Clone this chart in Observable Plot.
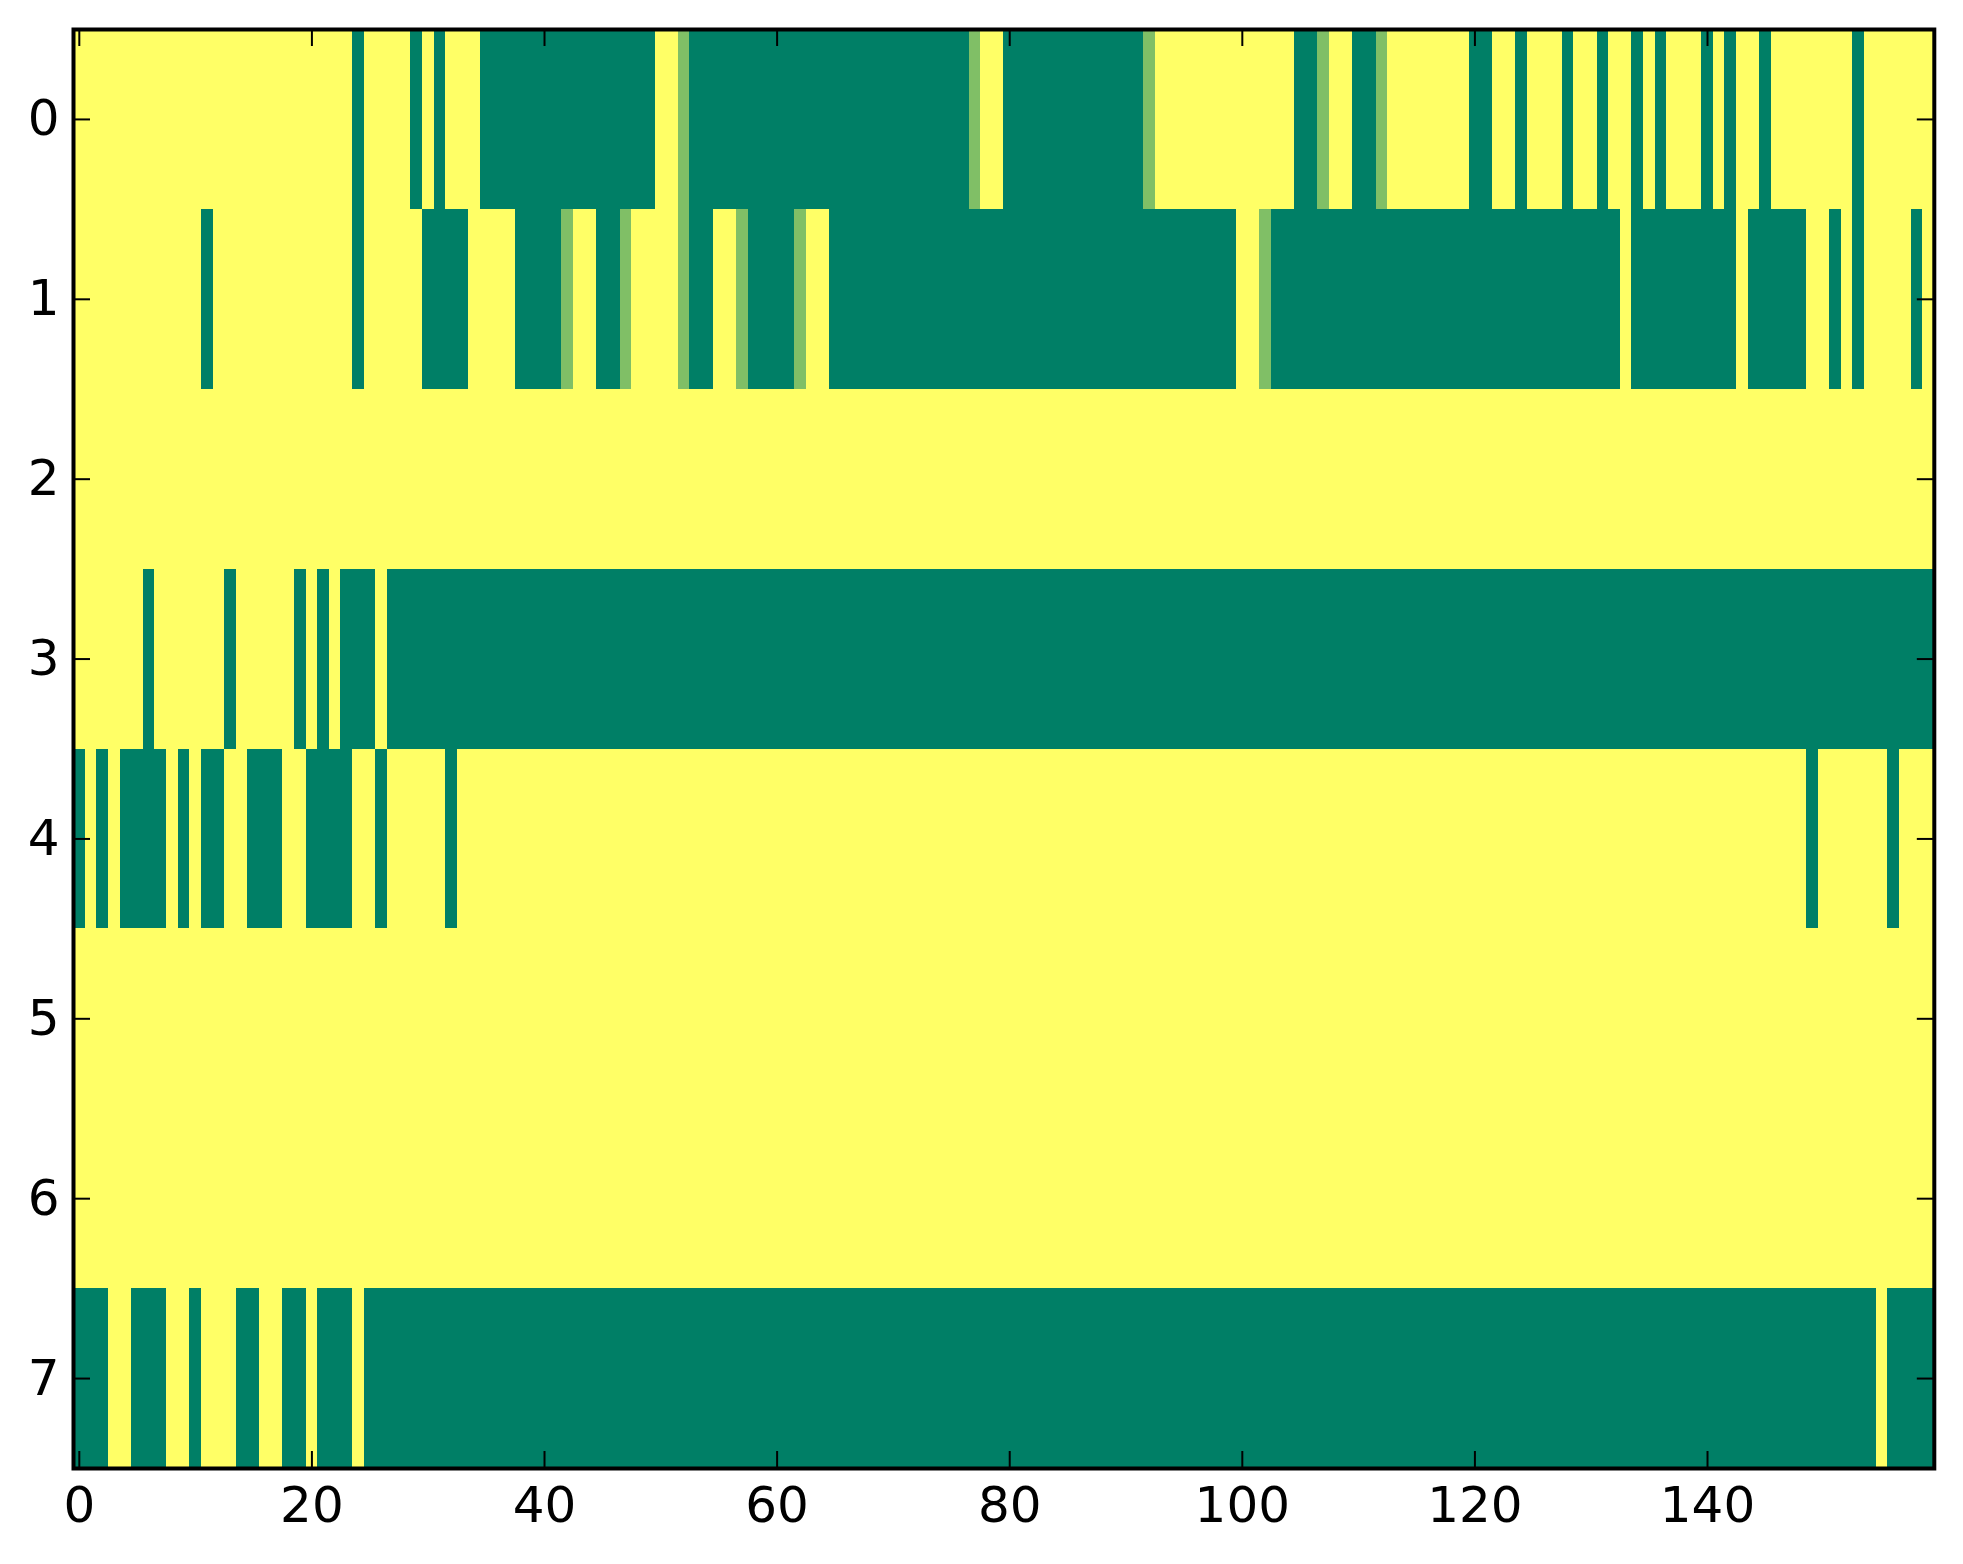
<!DOCTYPE html>
<html>
<head>
<meta charset="utf-8">
<style>html,body{margin:0;padding:0;background:#fff}svg{display:block}</style>
<script src="https://cdn.jsdelivr.net/npm/d3@7"></script>
<script src="https://cdn.jsdelivr.net/npm/@observablehq/plot@0.6"></script>
</head>
<body>
<div id="chart"></div>
<script>
const columns = 160;
const rowIndex = [0,1,2,3,4,5,6,7];
const xTicks = [0,20,40,60,80,100,120,140];
// Inclusive [first,last] column runs at value 0 (dark) for each row; everything else is 1 (yellow).
const row0Dark = [[24,24],[29,29],[31,31],[35,49],[53,76],[80,91],[105,106],[110,111],[120,121],[124,124],[128,128],[131,131],[134,134],[136,136],[140,140],[142,142],[145,145],[153,153]];
const row1Dark = [[11,11],[24,24],[30,33],[38,41],[45,46],[53,54],[58,61],[65,99],[103,132],[134,142],[144,148],[151,151],[153,153],[158,158]];
const row2Dark = [];
const row3Dark = [[6,6],[13,13],[19,19],[21,21],[23,25],[27,159]];
const row4Dark = [[0,0],[2,2],[4,7],[9,9],[11,12],[15,17],[20,23],[26,26],[32,32],[149,149],[156,156]];
const row5Dark = [];
const row6Dark = [];
const row7Dark = [[0,2],[5,7],[10,10],[14,15],[18,19],[21,23],[25,154],[156,159]];
// Columns at the middle value 0.5 (light green).
const row0Mid = [52,77,92,107,112];
const row1Mid = [42,47,52,57,62,102];

const darkRuns = [row0Dark,row1Dark,row2Dark,row3Dark,row4Dark,row5Dark,row6Dark,row7Dark];
const midCols = [row0Mid,row1Mid,[],[],[],[],[],[]];

const cells = [];
for (const row of rowIndex) {
  for (let col = 0; col < columns; col++) {
    let value = 1;
    if (darkRuns[row].some(([a,b]) => col >= a && col <= b)) value = 0;
    if (midCols[row].includes(col)) value = 0.5;
    cells.push({row, col, value});
  }
}

const font = "'DejaVu Sans'";
const plot = Plot.plot({
  width: 1963,
  height: 1564,
  marginLeft: 73,
  marginRight: 29.2,
  marginTop: 29,
  marginBottom: 96,
  x: {domain: [-0.5, 159.5], label: null},
  y: {domain: [7.5, -0.5], label: null},
  color: {type: "linear", domain: [0, 1], range: ["#007f66", "#ffff66"], interpolate: "rgb"},
  style: {background: "#fff", fontFamily: font},
  marks: [
    Plot.rect(cells, {
      x1: d => d.col - 0.5,
      x2: d => d.col + 0.5,
      y1: d => d.row - 0.5,
      y2: d => d.row + 0.5,
      fill: "value",
      shapeRendering: "crispEdges"
    }),
    Plot.tickX(xTicks, {x: d => d, stroke: "#000", strokeWidth: 2, insetBottom: 1422}),
    Plot.tickX(xTicks, {x: d => d, stroke: "#000", strokeWidth: 2, insetTop: 1422}),
    Plot.tickY(rowIndex, {y: d => d, stroke: "#000", strokeWidth: 2, insetRight: 1843.8}),
    Plot.tickY(rowIndex, {y: d => d, stroke: "#000", strokeWidth: 2, insetLeft: 1843.8}),
    Plot.frame({stroke: "#000", strokeWidth: 4}),
    Plot.axisX(xTicks, {anchor: "bottom", tickSize: 0, tickPadding: 18, fontSize: 50, fontFamily: font, fill: "#000", label: null, tickFormat: "d"}),
    Plot.axisY(rowIndex, {anchor: "left", tickSize: 0, tickPadding: 14, fontSize: 50, fontFamily: font, fill: "#000", label: null, tickFormat: "d"})
  ]
});
document.getElementById("chart").appendChild(plot);
</script>
</body>
</html>
